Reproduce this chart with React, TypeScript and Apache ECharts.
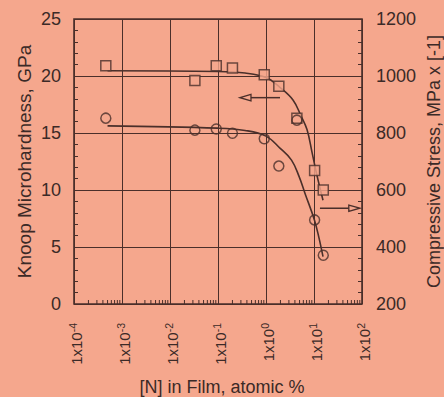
import React, { useEffect, useRef } from "react";
import * as echarts from "echarts";

// ---- data ----
const nitrogen = [4.6e-4, 0.033, 0.092, 0.2, 0.92, 1.85, 4.4, 10.3, 15.6]; // [N] atomic %
const hardness = [20.9, 19.6, 20.9, 20.7, 20.1, 19.1, 16.3, 11.7, 10.0]; // GPa (squares)
const stress = [852, 810, 814, 799, 780, 684, 845, 495, 371]; // MPa x [-1] (circles)

const hardFitX = [5e-4, 0.1, 0.365, 1.0, 1.95, 3.65, 5.36, 7.15, 9.1, 11.5, 15.4];
const hardFitY = [20.46, 20.4, 20.26, 19.87, 19.0, 17.9, 16.5, 15.3, 13.3, 11.3, 9.1];
const stressFitX = [5e-4, 0.1, 0.365, 1.0, 1.95, 3.4, 4.9, 6.5, 10.2, 12.7, 15.4];
const stressFitY = [825, 817, 809, 789, 747, 705, 647, 588, 495, 432, 366];

// arrows: [x tail, y tail, x tip, y tip] in left-axis (GPa) coordinates
const arrows = [
  [1.96, 18.1, 0.287, 18.1],
  [13.3, 8.4, 90, 8.4],
];

const decades = [-4, -3, -2, -1, 0, 1];
const minorMultipliers = [2, 3, 4, 5, 6, 7, 8, 9];

const BG = "#f5a78d";
const INK = "#4a2f2a";
const TXT = "#3b2a27";
const FONT = "'Liberation Sans', Arial, Helvetica, sans-serif";

export default function App() {
  const ref = useRef<HTMLDivElement>(null);
  useEffect(() => {
    if (!ref.current) return;
    document.body.style.margin = "0";
    document.body.style.background = BG;
    const chart = echarts.init(ref.current, null, { renderer: "svg" });

    const minorTicks: number[][] = [];
    decades.forEach((d) =>
      minorMultipliers.forEach((m) => minorTicks.push([m * Math.pow(10, d), 0]))
    );

    const option: any = {
      animation: false,
      backgroundColor: BG,
      textStyle: { fontFamily: FONT, color: TXT },
      grid: {
        left: 74,
        right: 82,
        top: 19,
        bottom: 93,
        outerBoundsMode: "none",
        containLabel: false,
        show: true,
        borderColor: INK,
        borderWidth: 1.6,
        backgroundColor: "transparent",
      },
      xAxis: {
        type: "log",
        logBase: 10,
        min: 1e-4,
        max: 1e2,
        interval: 1,
        name: "[N] in Film, atomic %",
        nameLocation: "middle",
        nameGap: 74,
        nameMoveOverlap: false,
        nameTextStyle: { fontSize: 18, color: TXT, fontFamily: FONT, padding: [0, 0, 0, 8] },
        axisLine: { show: false },
        axisTick: { show: false },
        splitLine: { show: true, lineStyle: { color: INK, width: 1 } },
        axisLabel: {
          rotate: 90,
          margin: 19,
          color: TXT,
          padding: [5, 0, 0, 0],
          formatter: (v: number) => {
            const e = Math.round(Math.log10(v));
            return "{m|1x10}{s|" + e + "}";
          },
          rich: {
            m: { fontSize: 15, lineHeight: 19, fontFamily: FONT, color: TXT },
            s: { fontSize: 10.5, lineHeight: 10, verticalAlign: "top", fontFamily: FONT, color: TXT },
          },
        },
      },
      yAxis: [
        {
          type: "value",
          min: 0,
          max: 25,
          interval: 5,
          position: "left",
          name: "Knoop Microhardness, GPa",
          nameLocation: "middle",
          nameGap: 40,
          nameMoveOverlap: false,
          nameTextStyle: { fontSize: 19, color: TXT, fontFamily: FONT },
          axisLine: { show: false },
          axisTick: { show: false, inside: true },
          minorTick: { show: true, splitNumber: 5, length: 4, lineStyle: { color: INK, width: 1 } },
          splitLine: { show: true, lineStyle: { color: INK, width: 1 } },
          axisLabel: { fontSize: 18, margin: 13, color: TXT, fontFamily: FONT },
        },
        {
          type: "value",
          min: 200,
          max: 1200,
          interval: 200,
          position: "right",
          name: "Compressive Stress, MPa x [-1]",
          nameLocation: "middle",
          nameGap: 63,
          nameMoveOverlap: false,
          nameTextStyle: { fontSize: 18, color: TXT, fontFamily: FONT },
          axisLine: { show: false },
          axisTick: { show: false, inside: true },
          minorTick: { show: true, splitNumber: 5, length: 4, lineStyle: { color: INK, width: 1 } },
          splitLine: { show: false },
          axisLabel: {
            fontSize: 18,
            margin: 14,
            color: TXT,
            fontFamily: FONT,
            formatter: (v: number) => String(v),
          },
        },
      ],
      series: [
        {
          name: "Hardness fit",
          type: "line",
          yAxisIndex: 0,
          smooth: 0.4,
          showSymbol: false,
          symbol: "none",
          lineStyle: { color: INK, width: 1.6 },
          data: hardFitX.map((x, i) => [x, hardFitY[i]]),
          z: 3,
        },
        {
          name: "Stress fit",
          type: "line",
          yAxisIndex: 1,
          smooth: 0.4,
          showSymbol: false,
          symbol: "none",
          lineStyle: { color: INK, width: 1.6 },
          data: stressFitX.map((x, i) => [x, stressFitY[i]]),
          z: 3,
        },
        {
          name: "Knoop Microhardness",
          type: "scatter",
          yAxisIndex: 0,
          symbol: "rect",
          symbolSize: 10,
          itemStyle: { color: BG, borderColor: INK, borderWidth: 1.5 },
          data: nitrogen.map((x, i) => [x, hardness[i]]),
          z: 4,
        },
        {
          name: "Compressive Stress",
          type: "scatter",
          yAxisIndex: 1,
          symbol: "circle",
          symbolSize: 10,
          itemStyle: { color: "transparent", borderColor: INK, borderWidth: 1.5 },
          data: nitrogen.map((x, i) => [x, stress[i]]),
          z: 5,
        },
        {
          name: "minor x ticks",
          type: "custom",
          yAxisIndex: 0,
          silent: true,
          clip: false,
          data: minorTicks,
          renderItem: (params: any, api: any) => {
            const p = api.coord([api.value(0), 0]);
            return {
              type: "line",
              shape: { x1: p[0], y1: p[1], x2: p[0], y2: p[1] - 4 },
              style: { stroke: INK, lineWidth: 1 },
            };
          },
          z: 2,
        },
        {
          name: "arrows",
          type: "custom",
          yAxisIndex: 0,
          silent: true,
          clip: false,
          data: arrows,
          renderItem: (params: any, api: any) => {
            const a = api.coord([api.value(0), api.value(1)]);
            const b = api.coord([api.value(2), api.value(3)]);
            const dir = b[0] > a[0] ? 1 : -1;
            const hl = 11;
            const hw = 3.2;
            const base = b[0] - dir * hl;
            return {
              type: "group",
              children: [
                {
                  type: "line",
                  shape: { x1: a[0], y1: a[1], x2: base, y2: b[1] },
                  style: { stroke: INK, lineWidth: 1.5 },
                },
                {
                  type: "polygon",
                  shape: { points: [[b[0], b[1]], [base, b[1] - hw], [base, b[1] + hw]] },
                  style: { fill: BG, stroke: INK, lineWidth: 1.3 },
                },
              ],
            };
          },
          z: 6,
        },
      ],
    };
    chart.setOption(option);
    return () => chart.dispose();
  }, []);

  return (
    <div
      ref={ref}
      style={{ position: "fixed", left: 0, top: 0, width: 444, height: 397, background: BG }}
    />
  );
}
